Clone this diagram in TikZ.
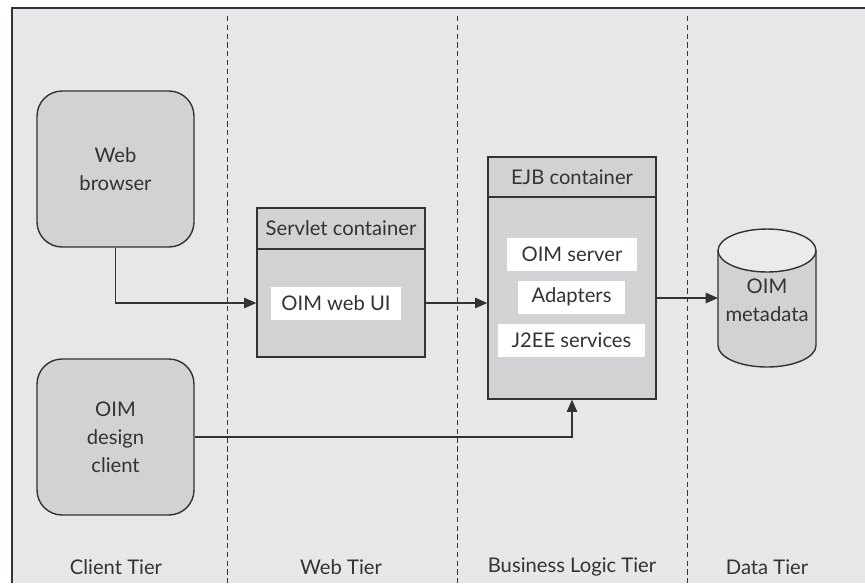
\documentclass[tikz,border=0pt]{standalone}
\usepackage{fontspec}
\setmainfont{Lato}
\usetikzlibrary{arrows.meta}
\definecolor{panelgray}{HTML}{E6E7E8}
\definecolor{boxgray}{HTML}{D1D2D4}
\definecolor{linegray}{HTML}{333333}
\tikzset{
  client/.style={draw=linegray,line width=0.8pt,fill=boxgray,rounded corners=0.5cm,
    minimum width=3.14cm,minimum height=3.12cm,align=center,text=linegray},
  container/.style={draw=linegray,line width=0.8pt,fill=boxgray,minimum width=3.36cm,text=linegray},
  part/.style={fill=white,minimum height=0.66cm,inner sep=0pt,text=linegray},
  flow/.style={draw=linegray,line width=0.7pt,-{Triangle[length=7pt,width=6pt]}},
  tier/.style={draw=linegray,line width=0.5pt,dash pattern=on 3pt off 2pt},
  tiername/.style={text=linegray}
}
\begin{document}
\fontsize{11.5}{16}\selectfont
\begin{tikzpicture}[x=0.02cm,y=-0.02cm]
    \useasboundingbox (0,0) rectangle (865,583);
    \fill[white] (0,0) rectangle (865,583);
    \fill[panelgray] (12,8) rectangle (865,583);
    \draw[linegray,line width=1pt] (12,583) -- (12,8) -- (865,8);
    % tier dividers and names
    \foreach \x in {227,457,687}
      \draw[tier] (\x,16) -- (\x,583);
    \node[tiername] (clienttier) at (116,567) {Client Tier};
    \node[tiername] (webtier) at (341,567) {Web Tier};
    \node[tiername] (logictier) at (572,567) {Business Logic Tier};
    \node[tiername] (datatier) at (767,567) {Data Tier};
    % clients
    \node[client] (browser) at (115.5,169) {Web\\browser};
    \node[client] (designer) at (115.5,437) {OIM\\design\\client};
    % servlet container
    \node[container,minimum height=2.98cm] (servlet) at (341,282.5) {};
    \node[container,minimum height=0.82cm] (servlethead) at (341,228.5) {Servlet container};
    \node[part,minimum width=2.6cm] (webui) at (336,303) {OIM web UI};
    % EJB container
    \node[container,minimum height=4.84cm] (ejb) at (572,278) {};
    \node[container,minimum height=0.8cm] (ejbhead) at (572,177) {EJB container};
    \node[part,minimum width=2.6cm] (server) at (572,254.5) {OIM server};
    \node[part,minimum width=2.14cm] (adapters) at (571.5,297) {Adapters};
    \node[part,minimum width=2.94cm] (j2ee) at (571.5,340.5) {J2EE services};
    % metadata store
    \shade[left color=boxgray,middle color=white,right color=boxgray]
      (718,250.5) -- (718,345.5)
      arc[start angle=180,end angle=360,x radius=0.98cm,y radius=0.43cm]
      -- (816,250.5) -- cycle;
    \draw[linegray,line width=0.8pt] (718,250.5) -- (718,345.5)
      arc[start angle=180,end angle=360,x radius=0.98cm,y radius=0.43cm]
      -- (816,250.5);
    \draw[linegray,line width=0.8pt,fill=boxgray!45] (767,250.5) ellipse[x radius=0.98cm,y radius=0.43cm];
    \node[align=center,text=linegray] (metadata) at (767,300) {OIM\\metadata};
    \coordinate (dbwest) at (718,298);
    % connectors
    \draw[flow] (browser.south) |- (servlet.west |- webui.west);
    \draw[flow] (servlet.east |- webui.east) -- (ejb.west |- webui.east);
    \draw[flow] (ejb.east |- dbwest) -- (dbwest);
    \draw[flow] (designer.east) -| (ejb.south);
\end{tikzpicture}
\end{document}
